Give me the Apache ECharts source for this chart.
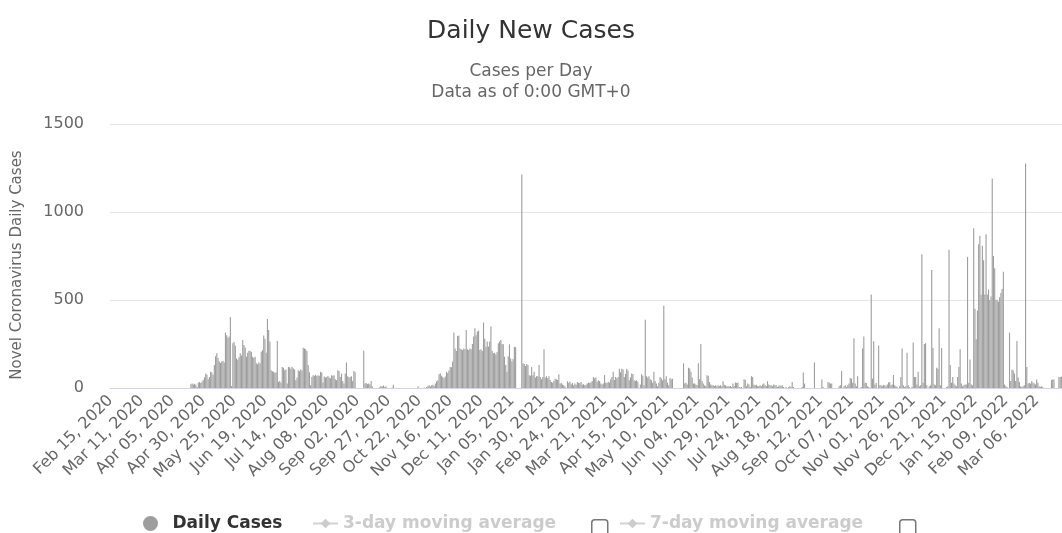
<!DOCTYPE html>
<html>
<head>
<meta charset="utf-8">
<title>Daily New Cases</title>
<script src="https://cdn.jsdelivr.net/npm/echarts@6/dist/echarts.min.js"></script>
<style>
  html, body { margin: 0; padding: 0; background: #fff; }
  #chart { width: 1062px; height: 533px; }
</style>
</head>
<body>
<div id="chart"></div>
<script>
// daily new cases, one value per day starting Feb 15, 2020
const cases2020 = [
  0,0,0,0,0,0,0,0,0,0,
  0,0,0,0,0,0,0,0,0,0,
  0,0,0,0,0,0,0,0,0,0,
  0,0,0,0,0,0,0,0,0,0,
  0,0,0,0,0,0,0,0,0,0,
  0,0,0,0,0,0,0,0,0,0,
  0,0,0,0,0,22,25,20,24,18,
  6,30,34,28,36,45,60,82,75,50,
  62,92,88,75,130,180,197,170,150,142,
  150,155,145,315,300,285,292,403,12,254,
  262,240,168,160,175,197,185,273,244,230,
  178,200,212,210,205,178,170,178,140,135,
  145,140,206,215,298,280,200,392,330,264,
  101,95,92,85,90,267,34,40,30,120,
  115,101,105,25,120,118,110,120,111,105,
  44,60,101,95,105,100,229,225,220,210,
  130,90,15,63,73,70,75,68,73,70,
  92,88,31,65,60,63,68,60,55,73,
  70,73,50,44,101,97,63,82,40,25,
  82,145,67,60,63,67,40,97,90,0,
  0,0,0,0,0,212,25,28,22,25,
  20,40,8,0,0,0,0,0,5,12,
  8,14,6,10,0,0,0,0,3,19,
  0,0,0,0,0,0,0,0,0,0,
  0,0,0,0,0,0,0,0,0,10,
  0,0,0,0,3,0,5,12,15,8,
  15,18,12,25,38,44,78,82,70,63,
  55,65,92,85,100,120,118,150,315,225,
  210,296,298,225,220,215,225,220,330,220,
  216,225,220,250,292,340,300,321,325,216,
  220,210,372,280,235,264,235,264,350,210,
  197,200,190,205,254,264,273,250,248,178,
  130
];
const cases2021 = [
  92,180,248,168,150,165,235,231,0,
  0,0,0,1213,140,136,125,136,130,73,
  70,120,73,92,60,67,67,130,63,50,
  63,220,60,67,55,67,45,34,30,40,
  53,50,45,78,25,28,20,15,10,0,
  38,30,35,22,29,15,25,18,34,30,
  28,34,19,22,15,19,25,31,28,31,
  40,63,55,60,35,44,40,25,20,25,
  73,31,28,35,31,50,63,92,45,63,
  55,63,110,90,110,105,63,80,110,100,
  44,60,82,80,44,40,44,35,0,20,
  78,70,15,388,67,60,67,50,44,30,
  92,40,25,10,30,63,55,44,468,50,
  67,30,15,57,50,53,0,0,0,0,
  0,0,0,0,140,25,30,20,115,111,
  92,60,25,25,20,15,140,50,250,40,
  25,15,10,73,70,34,20,15,15,12,
  15,10,15,12,15,10,38,19,15,8,
  11,9,11,5,25,12,31,28,31,6,
  3,6,0,50,45,10,25,20,5,67,
  63,19,15,19,10,12,15,10,20,25,
  15,12,38,20,15,15,10,20,15,15,
  5,10,15,12,15,5,0,5,0,5,
  10,5,34,5,0,0,0,0,0,0,
  5,88,25,0,0,0,0,0,0,0,
  145,0,0,0,0,0,48,5,0,0,
  0,34,30,25,25,0,0,0,0,0,
  10,15,97,0,10,15,5,15,25,57,
  53,30,283,25,10,67,0,0,5,225,
  292,30,29,10,5,0,531,53,265,20,
  29,0,241,15,15,10,15,15,10,20,
  31,34,15,20,74,15,10,5,0,10,
  63,225,15,5,10,200,15,5,0,5,
  258,63,63,20,92,10,15,760,30,250,
  254,15,0,10,15,670,227,20,15,115,
  110,340,15,227,0,0,0,5,10,785,
  130,30,63,25,15,10
];
const cases2022 = [
  63,120,220,25,
  10,15,20,20,745,30,162,20,15,907,
  450,277,440,817,865,530,808,726,531,873,
  531,560,500,520,1190,750,680,502,500,490,
  515,540,563,661,20,10,5,0,315,40,
  105,100,82,40,267,60,34,10,5,10,
  15,1276,120,25,30,25,40,30,25,20,
  48,30,10,5,10,5,0,0,0,0,
  0,0,45,48,48,0,0,0,63,63,
  65
];
const dailyCases = cases2020.concat(cases2021, cases2022);

const yTicks = [0, 500, 1000, 1500];
const labelEvery = 25;

// category labels: "Feb 15, 2020", ...
const monthNames = ["Jan", "Feb", "Mar", "Apr", "May", "Jun", "Jul", "Aug", "Sep", "Oct", "Nov", "Dec"];
const startDay = Date.UTC(2020, 1, 15);
const dates = dailyCases.map((v, i) => {
  const d = new Date(startDay + i * 86400000);
  const day = String(d.getUTCDate()).padStart(2, "0");
  return monthNames[d.getUTCMonth()] + " " + day + ", " + d.getUTCFullYear();
});

const font = "DejaVu Sans";
const legendText = { fontFamily: font, fontSize: 17, fontWeight: "bold", color: "#333" };
const chart = echarts.init(document.getElementById("chart"));

const option = {
  animation: false,
  backgroundColor: "#fff",
  title: [
    {
      text: "Daily New Cases",
      left: "center",
      top: 14,
      textStyle: { fontFamily: font, fontSize: 25, fontWeight: "normal", color: "#333" },
    },
    {
      text: "Cases per Day\nData as of 0:00 GMT+0",
      left: "center",
      top: 56,
      textStyle: { fontFamily: font, fontSize: 17, fontWeight: "normal", color: "#666", lineHeight: 21 },
    },
  ],
  legend: [
    {
      data: ["Daily Cases"],
      left: 138,
      top: 510,
      icon: "circle",
      itemWidth: 34,
      itemHeight: 15,
      textStyle: legendText,
    },
    {
      data: ["3-day moving average"],
      left: 307,
      top: 510,
      itemWidth: 25,
      itemHeight: 12,
      inactiveColor: "#ccc",
      selected: { "3-day moving average": false },
      textStyle: legendText,
    },
    {
      data: ["7-day moving average"],
      left: 614,
      top: 510,
      itemWidth: 25,
      itemHeight: 12,
      inactiveColor: "#ccc",
      selected: { "7-day moving average": false },
      textStyle: legendText,
    },
  ],
  grid: { left: 110, right: 0, top: 124, bottom: 145 },
  xAxis: {
    type: "category",
    data: dates,
    boundaryGap: true,
    axisLine: { lineStyle: { color: "#ccd6eb", width: 1 } },
    axisTick: { show: false },
    axisLabel: {
      rotate: 45,
      interval: (i) => i % labelEvery === 0,
      margin: 10,
      fontFamily: font,
      fontSize: 16,
      color: "#666",
    },
  },
  yAxis: {
    type: "value",
    min: yTicks[0],
    max: yTicks[yTicks.length - 1],
    interval: yTicks[1] - yTicks[0],
    name: "Novel Coronavirus Daily Cases",
    nameLocation: "middle",
    nameGap: 85,
    nameTextStyle: { fontFamily: font, fontSize: 15, color: "#666", padding: [0, 18, 0, 0] },
    axisLine: { show: false },
    axisTick: { show: false },
    axisLabel: { margin: 26, fontFamily: font, fontSize: 16, color: "#666", formatter: (v) => String(v) },
    splitLine: { lineStyle: { color: "#e6e6e6", width: 1 } },
  },
  series: [
    {
      name: "Daily Cases",
      type: "bar",
      data: dailyCases,
      barCategoryGap: "10%",
      itemStyle: { color: "#9e9e9e" },
    },
    {
      name: "3-day moving average",
      type: "line",
      data: [],
      symbol: "diamond",
      itemStyle: { color: "#ccc" },
    },
    {
      name: "7-day moving average",
      type: "line",
      data: [],
      symbol: "diamond",
      itemStyle: { color: "#ccc" },
    },
  ],
  // legend checkboxes, cut by the bottom edge
  graphic: [
    { type: "rect", left: 591, top: 519, shape: { width: 16, height: 22, r: 3 }, style: { fill: "#fff", stroke: "#777", lineWidth: 1.5 } },
    { type: "rect", left: 899, top: 519, shape: { width: 16, height: 22, r: 3 }, style: { fill: "#fff", stroke: "#777", lineWidth: 1.5 } },
  ],
};

chart.setOption(option);
</script>
</body>
</html>
